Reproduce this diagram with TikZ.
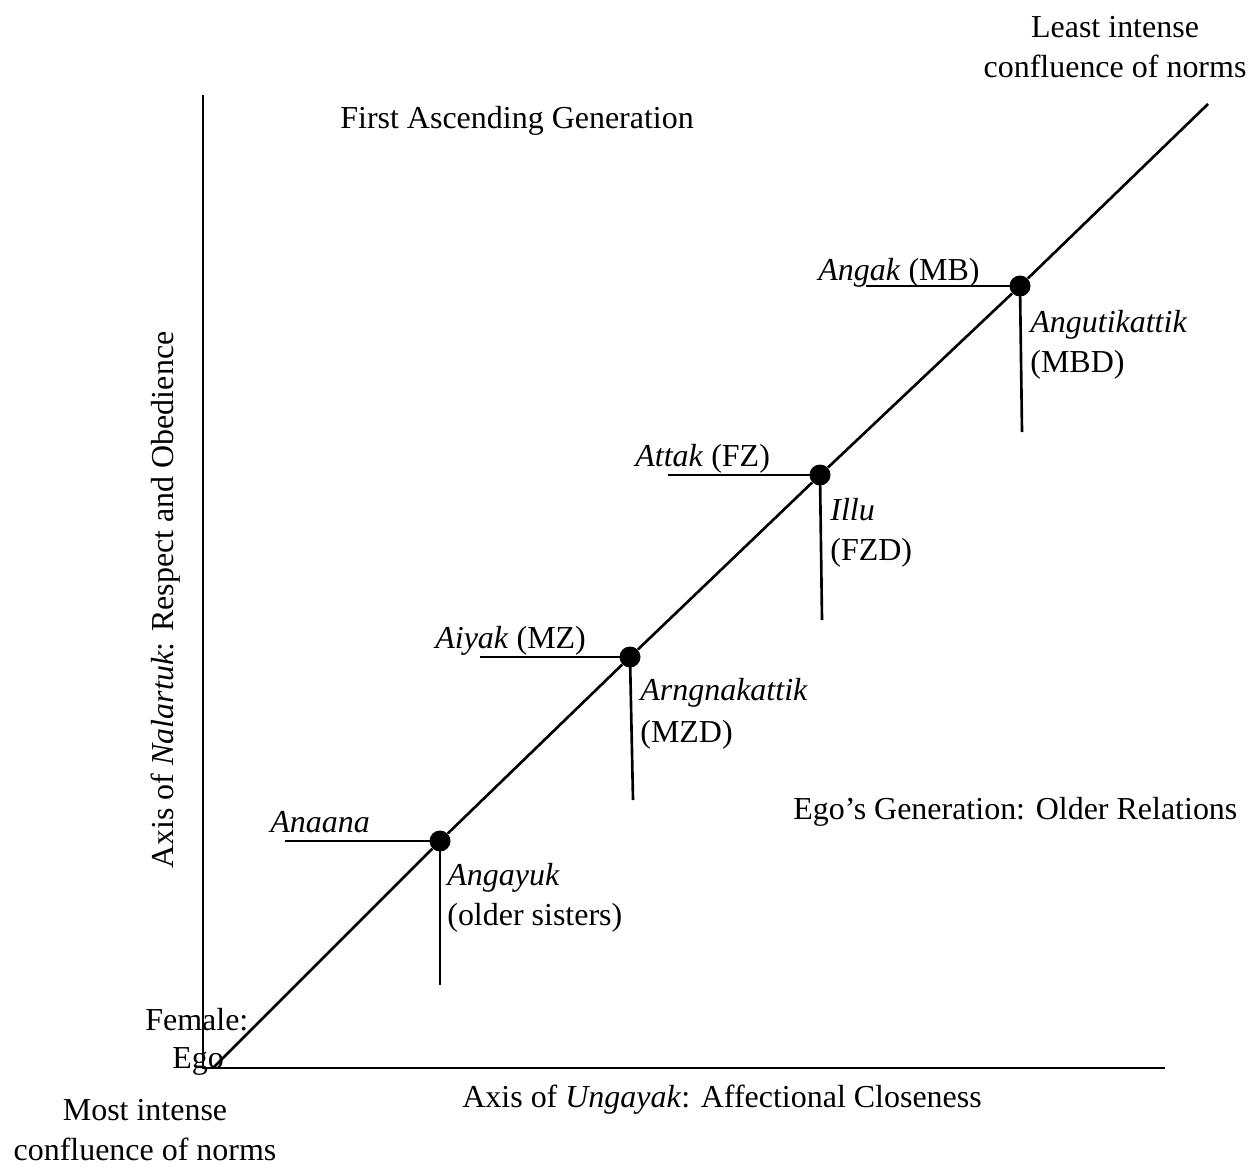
\documentclass[tikz,border=0pt]{standalone}
\usepackage{fontspec}
\setmainfont{Liberation Serif}
\begin{document}
\begin{tikzpicture}[x=0.02cm,y=-0.02cm,
  every node/.style={font=\fontsize{18.2}{22}\selectfont,inner sep=0pt},
  kin/.style={circle,fill=black,minimum size=0.42cm,inner sep=0pt},
  lbl/.style={anchor=base west},
  rule/.style={line width=1.5pt}]
\useasboundingbox (0,0) rectangle (1256,1167);
%   Axes :
\coordinate (o) at (203,1068);
\coordinate (ytop) at (203,95);
\coordinate (xend) at (1165,1068);
\draw[rule] (ytop) -- (o) -- (xend);
%   Relatives on the diagonal :
\coordinate (ego) at (213,1068);
\node[kin] (anaana) at (440,841) {};
\node[kin] (aiyak) at (630,657) {};
\node[kin] (attak) at (820,475) {};
\node[kin] (angak) at (1020,286) {};
\coordinate (least) at (1208,104);
\draw[rule] (ego) -- (anaana) -- (aiyak) -- (attak) -- (angak) -- (least);
%   Leaders :
\coordinate (anaanaL) at (285,841);
\coordinate (aiyakL) at (480,657);
\coordinate (attakL) at (668,475);
\coordinate (angakL) at (866,286);
\coordinate (anaanaD) at (440,985);
\coordinate (aiyakD) at (633,800);
\coordinate (attakD) at (822,620);
\coordinate (angakD) at (1022,432);
\foreach \k in {anaana,aiyak,attak,angak}{
  \draw[rule] (\k.center) -- (\k L);
  \draw[rule] (\k.center) -- (\k D);
}
%   Labels :
\node[lbl] (t1) at (270,832) {\textit{Anaana}};
\node[lbl] (t2) at (447,885) {\textit{Angayuk}};
\node[lbl] (t3) at (447,925) {(older sisters)};
\node[lbl] (t4) at (435,648) {\textit{Aiyak} (MZ)};
\node[lbl] (t5) at (640,700) {\textit{Arngnakattik}};
\node[lbl] (t6) at (640,742) {(MZD)};
\node[lbl] (t7) at (635,466) {\textit{Attak} (FZ)};
\node[lbl] (t8) at (830,520) {\textit{Illu}};
\node[lbl] (t9) at (830,560) {(FZD)};
\node[lbl] (t10) at (818,280) {\textit{Angak} (MB)};
\node[lbl] (t11) at (1030,332) {\textit{Angutikattik}};
\node[lbl] (t12) at (1030,372) {(MBD)};
\node[lbl] (gen1) at (340,128) {First Ascending Generation};
\node[lbl] (gen0) at (793,819) {Ego's Generation: Older Relations};
\node[lbl] (fem) at (145,1030) {Female:};
\node[lbl] (egolbl) at (172,1068) {Ego};
\node[anchor=base] (lst1) at (1115,37) {Least intense};
\node[anchor=base] (lst2) at (1115,77) {confluence of norms};
\node[anchor=base] (mst1) at (145,1120) {Most intense};
\node[anchor=base] (mst2) at (145,1160) {confluence of norms};
\node[lbl] (xlbl) at (462,1107) {Axis of \textit{Ungayak}: Affectional Closeness};
\node[rotate=90,anchor=base] (ylbl) at (173,600) {Axis of \textit{Nalartuk}: Respect and Obedience};
\end{tikzpicture}
\end{document}
